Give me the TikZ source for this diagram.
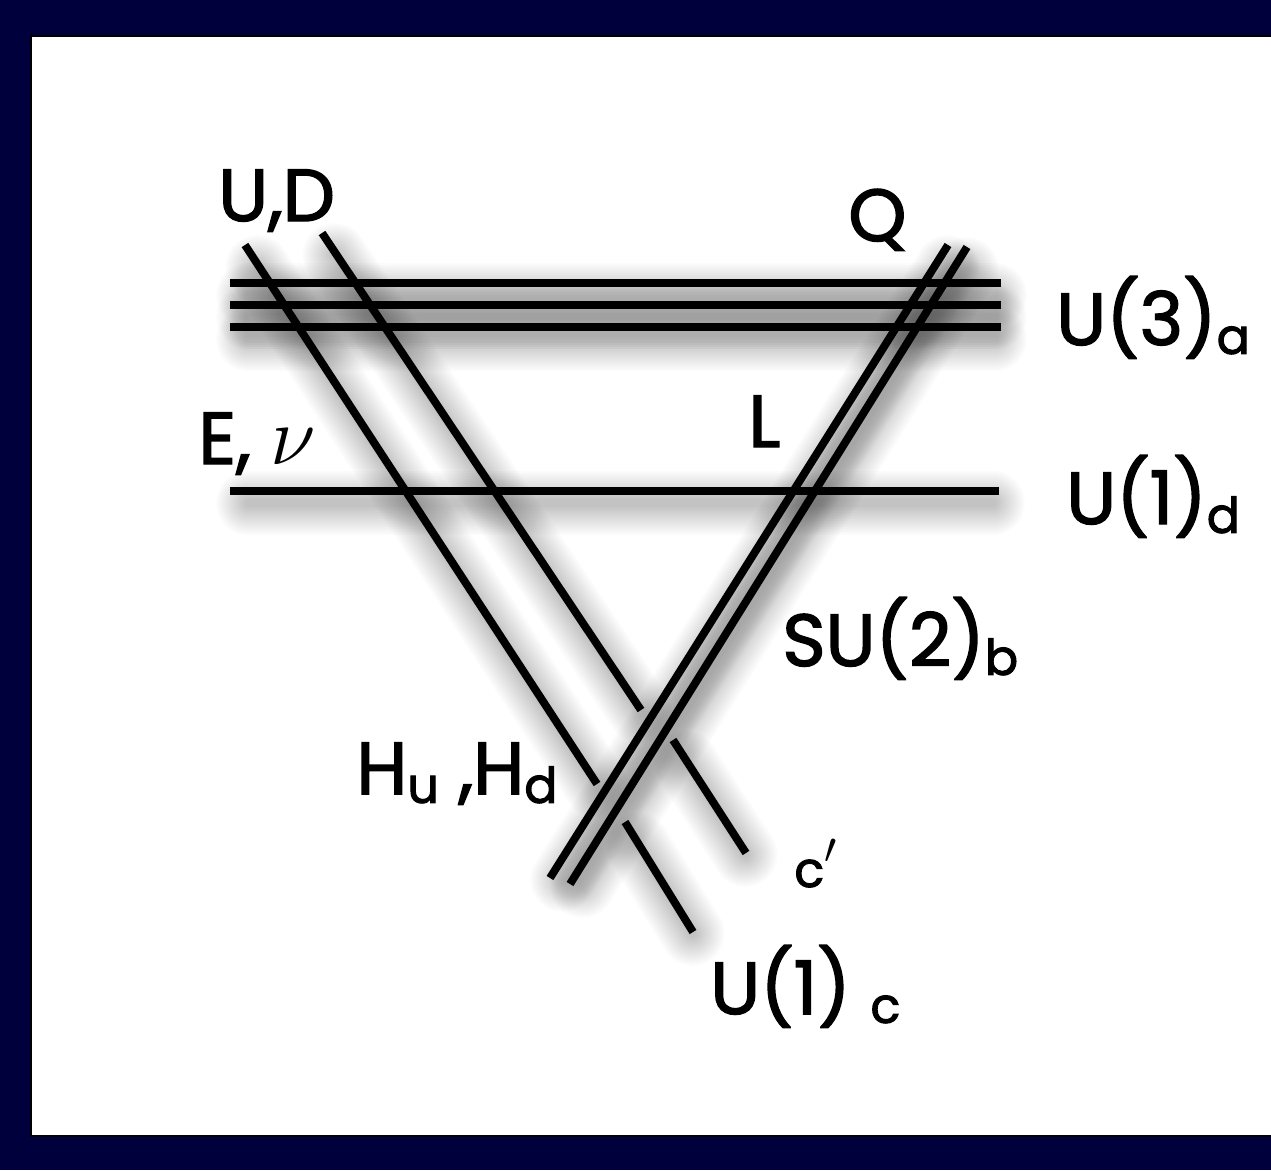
\documentclass[tikz,border=0pt]{standalone}
\usepackage{fontspec}
\setmainfont{Poppins}[FakeBold=2]
\usepackage{tikz}
\usetikzlibrary{calc}
\newcommand{\lowtext}[1]{\raisebox{-0.12em}{\fontsize{28pt}{28pt}\selectfont #1}}

\begin{document}
\begin{tikzpicture}[x=0.02cm,y=-0.02cm,
    brane/.style={line width=4.5pt, black},
    label/.style={anchor=base west, inner sep=0pt, font=\fontsize{42pt}{42pt}\selectfont},
    smalllabel/.style={anchor=base west, inner sep=0pt, font=\fontsize{28pt}{28pt}\selectfont}
]
\fill[fill={rgb,255:red,0;green,0;blue,60}] (0,0) rectangle (1271,1170);
\fill[black] (30,35) rectangle (1271,1137);
\fill[white] (32,37) rectangle (1271,1135);

\coordinate (a1w) at (230,283); \coordinate (a1e) at (1001,283);
\coordinate (a2w) at (230,305); \coordinate (a2e) at (1001,305);
\coordinate (a3w) at (230,327); \coordinate (a3e) at (1001,327);
\coordinate (dw) at (230,491);  \coordinate (de) at (999,491);
\coordinate (c1t) at (245,245); \coordinate (c1m) at (597,784);
\coordinate (c1n) at (625,822); \coordinate (c1b) at (693,932);
\coordinate (c2t) at (322,233); \coordinate (c2m) at (641,710);
\coordinate (c2n) at (673,740); \coordinate (c2b) at (746,853);
\coordinate (b1t) at (948,245); \coordinate (b1b) at (550,878);
\coordinate (b2t) at (967,247); \coordinate (b2b) at (570,884);

\begin{scope}
\clip (32,37) rectangle (1271,1135);
\foreach \from/\to in {a1w/a1e,a2w/a2e,a3w/a3e,dw/de,c1t/c1m,c1n/c1b,c2t/c2m,c2n/c2b,b1t/b1b,b2t/b2b} {
  \foreach \w in {64,60,56,52,48,44,40,36,32,28,24,20,16,12,8} {
    \draw[line width=\w*0.02cm, black, opacity=0.015, line cap=round]
      ($(\from)!7pt!(\to)+(6,12)$) -- ($(\to)!7pt!(\from)+(6,12)$);
  }
}
\end{scope}

\foreach \from/\to in {a1w/a1e,a2w/a2e,a3w/a3e,dw/de,c1t/c1m,c1n/c1b,c2t/c2m,c2n/c2b,b1t/b1b,b2t/b2b} {
  \draw[brane] (\from) -- (\to);
}

\node[label] (ud) at (218,221) {U,D};
\node[label] (q) at (848,241) {Q};
\node[label] (ua) at (1056,345) {U(3)\lowtext{a}};
\node[label] (enu) at (198,464) {E, \scalebox{1.9}{$\nu$}};
\node[label] (l) at (748,447) {L};
\node[label] (ud1) at (1066,524) {U(1)\lowtext{d}};
\node[label] (su) at (782,666) {SU(2)\lowtext{b}};
\node[label] (higgs) at (356,794) {H\lowtext{u} ,H\lowtext{d}};
\node[smalllabel] (cp) at (794,887) {c\raisebox{0.1em}{\scalebox{1.2}{$'$}}};
\node[label] (uc) at (710,1014) {U(1) \lowtext{c}};
\end{tikzpicture}
\end{document}
